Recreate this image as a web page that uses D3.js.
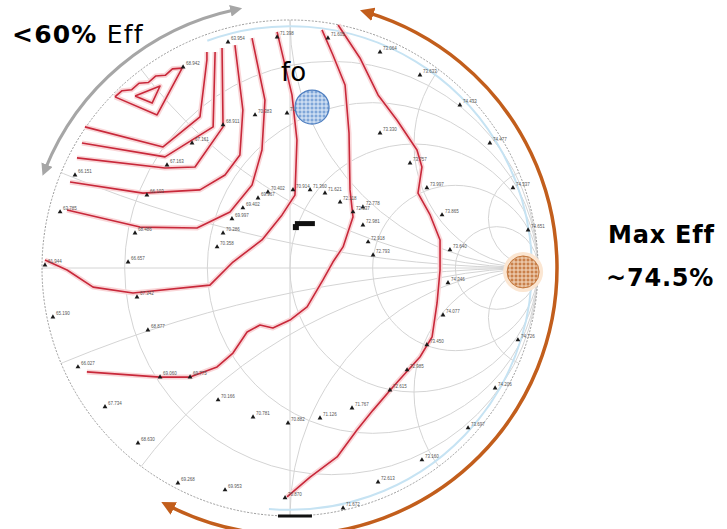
<!DOCTYPE html>
<html>
<head>
<meta charset="utf-8">
<script src="https://cdn.jsdelivr.net/npm/d3@7"></script>
<style>
body { margin: 0; background: #fff; }
svg { display: block; }
</style>
</head>
<body>
<script>
const w = 727, h = 529;
const cx = 290, cy = 268, R = 248;

// smith chart grid
const resistances = [0.2, 0.5, 1, 2, 5];
const reactances = [0.2, 0.5, 1, 2, 5, -0.2, -0.5, -1, -2, -5];

// efficiency contours, as reflection coefficient [re, im]
const contour1 = [[-0.625, 0.694], [-0.524, 0.734], [-0.556, 0.665], [-0.625, 0.694]];
const contour2 = [[-0.706, 0.690], [-0.677, 0.715], [-0.638, 0.719], [-0.609, 0.745], [-0.571, 0.748],
  [-0.542, 0.774], [-0.503, 0.777], [-0.474, 0.803], [-0.435, 0.806], [-0.536, 0.617], [-0.706, 0.690]];
const contour3 = [[-0.827, 0.569], [-0.512, 0.488], [-0.363, 0.609], [-0.335, 0.839], [-0.335, 0.871]];
const contour4 = [[-0.839, 0.504], [-0.504, 0.448], [-0.310, 0.569], [-0.302, 0.871]];
const contour5 = [[-0.859, 0.444], [-0.504, 0.403], [-0.383, 0.407], [-0.270, 0.569], [-0.274, 0.887]];
const contour6 = [[-0.887, 0.347], [-0.593, 0.302], [-0.363, 0.315], [-0.262, 0.375], [-0.202, 0.456],
  [-0.190, 0.637], [-0.222, 0.899]];
const contour7 = [[-0.899, 0.234], [-0.605, 0.165], [-0.375, 0.161], [-0.242, 0.226], [-0.153, 0.335],
  [-0.113, 0.476], [-0.101, 0.677], [-0.153, 0.927]];
const contour8 = [[-0.988, 0.032], [-0.899, -0.008], [-0.794, -0.077], [-0.633, -0.101], [-0.323, -0.069],
  [-0.230, 0.024], [-0.113, 0.113], [-0.032, 0.214], [0.020, 0.294], [0.028, 0.516], [0.008, 0.698], [-0.052, 0.952]];
const contour9 = [[0.129, 0.960], [0.173, 0.859], [0.222, 0.738], [0.238, 0.544], [0.242, 0.315], [0.254, 0.206],
  [0.214, 0.085], [0.173, 0.024], [0.133, -0.048], [0.069, -0.157], [0.000, -0.210], [-0.069, -0.242],
  [-0.121, -0.230], [-0.173, -0.258], [-0.230, -0.343], [-0.294, -0.399], [-0.403, -0.440], [-0.524, -0.440], [-0.819, -0.419]];
const contour10 = [[0.194, 0.980], [0.282, 0.847], [0.355, 0.698], [0.431, 0.597], [0.512, 0.476], [0.532, 0.407],
  [0.516, 0.302], [0.565, 0.214], [0.605, 0.113], [0.605, -0.008], [0.593, -0.141], [0.573, -0.278], [0.524, -0.359],
  [0.415, -0.480], [0.335, -0.573], [0.270, -0.653], [0.190, -0.762], [0.081, -0.843], [-0.012, -0.923]];

// measured load points [re, im, efficiency %]
const measured = [
  [-0.250, 0.911, '63.954'], [-0.052, 0.931, '71.398'], [0.153, 0.927, '71.605'], [-0.431, 0.810, '68.942'],
  [-0.141, 0.617, '70.383'], [-0.012, 0.625, '71.006'], [-0.270, 0.577, '68.911'], [-0.395, 0.504, '67.161'],
  [-0.496, 0.415, '67.163'], [-0.577, 0.294, '66.103'], [-0.867, 0.375, '66.151'], [-0.927, 0.226, '63.785'],
  [-0.625, 0.141, '68.486'], [0.012, 0.315, '70.914'], [0.081, 0.315, '71.360'], [0.141, 0.302, '71.621'],
  [0.202, 0.266, '72.118'], [0.254, 0.226, '72.337'], [-0.294, 0.085, '70.358'], [-0.270, 0.141, '70.286'],
  [-0.234, 0.198, '69.997'], [-0.190, 0.242, '69.402'], [-0.129, 0.282, '69.967'], [-0.089, 0.306, '70.402'],
  [0.363, 0.871, '73.064'], [0.524, 0.778, '73.633'], [0.685, 0.657, '74.433'], [0.806, 0.504, '74.477'],
  [0.899, 0.323, '74.337'], [0.960, 0.153, '74.651'], [0.363, 0.544, '73.330'], [0.484, 0.423, '73.757'],
  [0.552, 0.323, '73.997'], [0.613, 0.214, '73.865'], [0.294, 0.246, '72.778'], [0.294, 0.173, '72.981'],
  [0.315, 0.105, '72.918'], [0.335, 0.052, '72.793'], [0.645, 0.073, '73.640'], [0.637, -0.060, '74.346'],
  [0.617, -0.190, '74.077'], [0.552, -0.310, '73.450'], [0.472, -0.411, '72.985'], [0.403, -0.492, '72.615'],
  [0.250, -0.565, '71.767'], [0.121, -0.605, '71.126'], [-0.008, -0.625, '70.882'], [0.919, -0.290, '74.726'],
  [0.827, -0.484, '74.206'], [0.718, -0.645, '73.697'], [0.532, -0.774, '73.160'], [0.355, -0.863, '72.613'],
  [0.214, -0.968, '71.672'], [-0.020, -0.927, '70.870'], [-0.988, 0.012, '61.944'], [-0.653, 0.024, '66.657'],
  [-0.617, -0.117, '67.342'], [-0.956, -0.198, '65.190'], [-0.573, -0.250, '68.877'], [-0.855, -0.399, '66.027'],
  [-0.524, -0.440, '69.060'], [-0.403, -0.440, '69.775'], [-0.746, -0.560, '67.734'], [-0.290, -0.532, '70.166'],
  [-0.613, -0.706, '68.630'], [-0.149, -0.601, '70.781'], [-0.452, -0.867, '69.268'], [-0.262, -0.895, '69.953']
];

const foPoint = [0.089, 0.649];
const maxEffPoint = [0.940, -0.016];
const centerMark = [0.060, 0.173];
const bottomMark = [0.020, -1.0];

const contours = [contour1, contour2, contour3, contour4, contour5, contour6, contour7, contour8, contour9, contour10];

let x = d3.scaleLinear().domain([-1, 1]).range([cx - R, cx + R]);
let y = d3.scaleLinear().domain([-1, 1]).range([cy + R, cy - R]);
let rs = d => x(d) - x(0);

let svg = d3.select('body').append('svg').attr('width', w).attr('height', h);
let defs = svg.append('defs');

defs.append('clipPath').attr('id', 'unit')
    .append('circle').attr('cx', x(0)).attr('cy', y(0)).attr('r', rs(1));

function hatch(id, bg, fg) {
  let p = defs.append('pattern').attr('id', id).attr('patternUnits', 'userSpaceOnUse')
      .attr('width', 4).attr('height', 4);
  p.append('rect').attr('width', 4).attr('height', 4).attr('fill', bg);
  p.append('path').attr('d', 'M0,2H4M2,0V4').attr('stroke', fg).attr('stroke-width', 1);
}
hatch('hatchBlue', '#7fa6d8', '#e4eefa');
hatch('hatchOrange', '#c9804a', '#f6dcc4');

function arrowHead(id, color) {
  defs.append('marker').attr('id', id)
      .attr('viewBox', '0 0 10 10').attr('refX', 4).attr('refY', 5)
      .attr('markerWidth', 4).attr('markerHeight', 4)
      .attr('orient', 'auto-start-reverse')
      .append('path').attr('d', 'M0,0L10,5L0,10z').attr('fill', color);
}
arrowHead('headGray', '#a6a6a6');
arrowHead('headBrown', '#c25e1c');

// grid
let grid = svg.append('g').attr('clip-path', 'url(#unit)')
    .attr('fill', 'none').attr('stroke', '#d4d4d4').attr('stroke-width', 1);

grid.selectAll('circle.r').data(resistances).enter()
    .append('circle').attr('class', 'r')
    .attr('cx', d => x(d / (1 + d)))
    .attr('cy', y(0))
    .attr('r', d => rs(1 / (1 + d)));

grid.selectAll('circle.x').data(reactances).enter()
    .append('circle').attr('class', 'x')
    .attr('cx', x(1))
    .attr('cy', d => y(1 / d))
    .attr('r', d => rs(1 / Math.abs(d)));

grid.append('line').attr('x1', x(-1)).attr('x2', x(1)).attr('y1', y(0)).attr('y2', y(0));
grid.append('line').attr('x1', x(0)).attr('x2', x(0)).attr('y1', y(-1)).attr('y2', y(1));

// light blue edge line on the right
let edge = d3.path();
edge.arc(x(0), y(0), rs(0.975), -110 * Math.PI / 180, 95 * Math.PI / 180, false);
svg.append('path').attr('d', edge.toString())
    .attr('fill', 'none').attr('stroke', '#c6e3f3').attr('stroke-width', 2);

svg.append('circle')
    .attr('cx', x(0)).attr('cy', y(0)).attr('r', rs(1))
    .attr('fill', 'none').attr('stroke', '#9a9a9a').attr('stroke-width', 1)
    .attr('stroke-dasharray', '2,1.5');

// contours
let line = d3.line().x(d => x(d[0])).y(d => y(d[1]));

svg.append('g').selectAll('path').data(contours).enter()
    .append('path')
    .attr('d', line)
    .attr('fill', 'none').attr('stroke', '#f9d6d8').attr('stroke-width', 5)
    .attr('stroke-linejoin', 'round');

svg.append('g').selectAll('path').data(contours).enter()
    .append('path')
    .attr('d', line)
    .attr('fill', 'none').attr('stroke', '#c8283a').attr('stroke-width', 1.6)
    .attr('stroke-linejoin', 'round');

// measured points
let pts = svg.append('g');
pts.selectAll('path').data(measured).enter()
    .append('path')
    .attr('d', d3.symbol().type(d3.symbolTriangle).size(10))
    .attr('transform', d => 'translate(' + x(d[0]) + ',' + y(d[1]) + ')')
    .attr('fill', '#1a1a1a');
pts.selectAll('text').data(measured).enter()
    .append('text')
    .text(d => d[2])
    .attr('x', d => x(d[0]) + 3)
    .attr('y', d => y(d[1]) - 2)
    .attr('font-family', 'Liberation Sans, Arial, sans-serif')
    .attr('font-size', '4.5px')
    .attr('fill', '#555');

// black marks
svg.append('rect')
    .attr('x', x(centerMark[0]) - 10).attr('y', y(centerMark[1]) - 4)
    .attr('width', 20).attr('height', 5).attr('fill', '#111');
svg.append('rect')
    .attr('x', x(centerMark[0]) - 12).attr('y', y(centerMark[1]) - 1)
    .attr('width', 6).attr('height', 6).attr('fill', '#111');
svg.append('line')
    .attr('x1', x(bottomMark[0]) - 17).attr('x2', x(bottomMark[0]) + 17)
    .attr('y1', y(bottomMark[1])).attr('y2', y(bottomMark[1]))
    .attr('stroke', '#111').attr('stroke-width', 3);

// fo and max eff markers
svg.append('circle')
    .attr('cx', x(maxEffPoint[0])).attr('cy', y(maxEffPoint[1])).attr('r', 20)
    .attr('fill', '#fbe6d2');
svg.append('circle')
    .attr('cx', x(maxEffPoint[0])).attr('cy', y(maxEffPoint[1])).attr('r', 16)
    .attr('fill', 'url(#hatchOrange)').attr('stroke', '#c47a40').attr('stroke-width', 1);
svg.append('circle')
    .attr('cx', x(foPoint[0])).attr('cy', y(foPoint[1])).attr('r', 17)
    .attr('fill', 'url(#hatchBlue)').attr('stroke', '#4f7fc0').attr('stroke-width', 1.2);

// arrows round the chart
let grayArc = d3.path();
grayArc.arc(x(0), y(0), 264, -102 * Math.PI / 180, -158 * Math.PI / 180, true);
svg.append('path').attr('d', grayArc.toString())
    .attr('fill', 'none').attr('stroke', '#a6a6a6').attr('stroke-width', 3)
    .attr('marker-start', 'url(#headGray)').attr('marker-end', 'url(#headGray)');

let brownArc = d3.path();
brownArc.arc(x(0), y(0), 267, -73 * Math.PI / 180, 117 * Math.PI / 180, false);
svg.append('path').attr('d', brownArc.toString())
    .attr('fill', 'none').attr('stroke', '#c25e1c').attr('stroke-width', 3.5)
    .attr('marker-start', 'url(#headBrown)').attr('marker-end', 'url(#headBrown)');

// annotations
let t1 = svg.append('text').attr('x', 12).attr('y', 43)
    .attr('font-family', 'DejaVu Sans, sans-serif').attr('font-size', '25px')
    .attr('letter-spacing', '1.2px').attr('fill', '#000');
t1.append('tspan').attr('font-weight', 'bold').text('<60%');
t1.append('tspan').text(' Eff');

svg.append('text').attr('x', 281).attr('y', 81)
    .attr('font-family', 'DejaVu Sans, sans-serif').attr('font-size', '26px').attr('fill', '#000')
    .text('fo');

svg.append('text').attr('x', 608).attr('y', 243)
    .attr('font-family', 'DejaVu Sans, sans-serif').attr('font-size', '24px')
    .attr('letter-spacing', '0.8px')
    .attr('font-weight', 'bold').attr('fill', '#000')
    .text('Max Eff');
svg.append('text').attr('x', 606).attr('y', 286)
    .attr('font-family', 'DejaVu Sans, sans-serif').attr('font-size', '24px')
    .attr('letter-spacing', '0.8px')
    .attr('font-weight', 'bold').attr('fill', '#000')
    .text('~74.5%');
</script>
</body>
</html>
